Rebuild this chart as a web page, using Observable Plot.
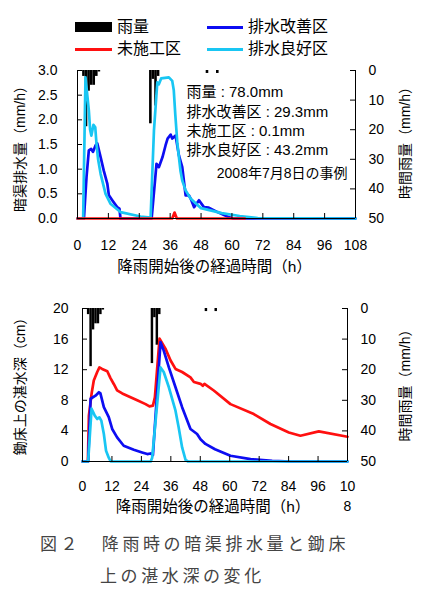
<!DOCTYPE html>
<html><head><meta charset="utf-8">
<script src="https://cdn.jsdelivr.net/npm/d3@7"></script>
<script src="https://cdn.jsdelivr.net/npm/@observablehq/plot@0.6"></script>
<style>
body{margin:0;background:#fff;}
#root{position:relative;width:429px;height:600px;overflow:hidden;font-family:"Liberation Sans",Arial,"Noto Sans CJK JP",sans-serif;color:#000;}
.abs{position:absolute;white-space:nowrap;}
.sw{position:absolute;}
svg{position:absolute;left:0;}
</style></head><body><div id="root"></div>
<script>
// ---------- data ----------
const xTicks = [0, 12, 24, 36, 48, 60, 72, 84, 96, 108];
const topYTicks = [0, 0.5, 1, 1.5, 2, 2.5, 3];
const botYTicks = [0, 4, 8, 12, 16, 20];
const rainTicks = [0, 10, 20, 30, 40, 50];

const rainHour = [2, 3, 4, 5, 6, 7, 8, 28, 29, 30, 31, 50, 54];
const rainMm   = [2, 19, 7, 5, 5, 2, 0.5, 18, 3, 12, 2, 1, 1];

const legendNames = ["雨量", "排水改善区", "未施工区", "排水良好区"];

// top chart: 暗渠排水量 (mm/h)
const topKaizenHour = [0, 2.5, 3.5, 4.4, 5.3, 6.0, 7.0, 7.7, 9.0, 10.2, 11.6, 12.2, 13.5, 15.4, 16.3, 16.7, 28.8, 30.7, 31.6, 33.0, 34.2, 35.0, 36.2, 36.8, 38.1, 39.4, 40.7, 42.0, 43.3, 44.0, 45.3, 47.2, 49.1, 51.0, 54.4, 58.2, 60.5, 108];
const topKaizenVal  = [0, 0, 0.84, 1.38, 1.41, 1.35, 1.48, 1.52, 1.24, 0.97, 0.70, 0.47, 0.37, 0.23, 0.20, 0, 0, 1.11, 1.04, 1.24, 1.48, 1.62, 1.70, 1.62, 1.68, 1.28, 1.04, 0.47, 0.47, 0.40, 0.23, 0.37, 0.23, 0.22, 0.13, 0.04, 0, 0];
const topMisekoHour = [0, 36.8, 37.7, 38.6, 65];
const topMisekoVal  = [0, 0, 0.12, 0, 0];
const topRyokoHour  = [0, 2.2, 3.1, 3.8, 4.4, 4.9, 5.4, 6.2, 6.9, 7.4, 8.0, 9.0, 10.9, 12.8, 16.7, 24.5, 28.4, 29.7, 31.0, 31.6, 32.5, 35.5, 36.8, 37.4, 38.0, 38.8, 40.0, 40.7, 42.0, 44.0, 48.0, 56.0, 63.0, 70.0, 108];
const topRyokoVal   = [0, 0, 2.86, 2.50, 2.19, 1.80, 1.68, 1.90, 1.85, 1.50, 1.20, 0.90, 0.50, 0.30, 0.13, 0.04, 0.02, 1.78, 2.76, 2.72, 2.84, 2.86, 2.79, 2.60, 2.10, 1.52, 0.97, 0.77, 0.57, 0.40, 0.21, 0.11, 0.05, 0.01, 0];

// bottom chart: 鋤床上の湛水深 (cm)
const botMisekoHour = [0, 2.2, 2.6, 3.7, 4.6, 6.0, 6.9, 8.0, 10.1, 11.4, 12.8, 14.1, 16.2, 18.9, 22.3, 25.7, 27.3, 28.7, 29.5, 31.4, 33.8, 35.9, 37.9, 40.6, 44.0, 45.4, 48.1, 49.0, 49.7, 53.5, 60.3, 69.8, 76.6, 84.1, 88.8, 96.3, 108];
const botMisekoVal  = [0, 0, 6.0, 8.85, 10.6, 11.7, 12.3, 12.1, 11.8, 10.9, 10.1, 9.3, 8.9, 8.5, 8.0, 7.5, 7.2, 7.3, 8.4, 16.06, 14.75, 13.2, 12.1, 11.7, 11.0, 10.4, 10.15, 9.9, 10.15, 9.28, 7.5, 6.2, 4.9, 3.8, 3.37, 3.94, 3.24];
const botKaizenHour = [0, 2.3, 3.3, 5.3, 6.7, 7.3, 8.7, 10.7, 12.1, 14.1, 16.8, 20.9, 24.3, 26.4, 27.7, 28.7, 31.8, 33.1, 35.2, 37.9, 40.6, 44.0, 46.7, 48.1, 50.1, 54.0, 60.3, 68.5, 77.3, 85, 108];
const botKaizenVal  = [0, 0, 8.2, 8.6, 9.05, 8.9, 7.1, 5.8, 4.25, 3.15, 2.06, 1.54, 1.18, 0.97, 1.05, 0.84, 15.6, 14.5, 12.3, 9.7, 7.1, 4.25, 3.6, 2.9, 2.3, 1.6, 0.75, 0.3, 0.1, 0, 0];
const botRyokoHour  = [0, 2.3, 3.7, 5.0, 6.0, 6.9, 7.7, 8.7, 9.6, 10.7, 11.5, 27.8, 28.4, 31.8, 33.1, 35.2, 37.9, 39.2, 40.6, 42.0, 43.0, 108];
const botRyokoVal   = [0, 0, 6.9, 6.0, 5.56, 5.77, 5.3, 3.6, 1.4, 0.5, 0, 0, 0.5, 12.3, 11.7, 9.7, 6.65, 4.46, 1.84, 0.2, 0, 0];

const annotLines = ["雨量 : 78.0mm", "排水改善区 : 29.3mm", "未施工区 : 0.1mm", "排水良好区 : 43.2mm"];
const annotDate = "2008年7月8日の事例";
const xLabel = "降雨開始後の経過時間（h）";
const topYLabel = "暗渠排水量（mm/h）";
const botYLabel = "鋤床上の湛水深（cm）";
const rainLabel = "時間雨量（mm/h）";
const captionLines = ["図２　降雨時の暗渠排水量と鋤床", "上の湛水深の変化"];

// ---------- build ----------
const BLUE = "#0d0df2", RED = "#ff1010", CYAN = "#19c6f3";
const FONT = '"Liberation Sans", Arial, "Noto Sans CJK JP", sans-serif';
const zip = (h, v) => h.map((x, i) => ({h: x, v: v[i]}));
const rain = rainHour.map((h, i) => ({h, r: rainMm[i]}));

function chart(o) {
  const fw = 429 - o.ml - o.mr, fh = o.h - o.mt - o.mb;
  const toY = r => o.yMax * (1 - r / 50);
  const rainY = rainTicks.map(toY);
  return Plot.plot({
    width: 429, height: o.h,
    marginTop: o.mt, marginBottom: o.mb, marginLeft: o.ml, marginRight: o.mr,
    x: {domain: [0, 108]},
    y: {domain: [0, o.yMax]},
    style: {fontFamily: FONT, fontSize: "14px", background: "transparent", color: "#000", overflow: "visible"},
    marks: [
      Plot.rect(rain, {x1: d => d.h, x2: d => d.h + 1, y1: () => o.yMax, y2: d => toY(d.r), fill: "#000"}),
      ...o.series.map(s => Plot.line(zip(s.h, s.v), {x: "h", y: "v", stroke: s.color, strokeWidth: 2.7, strokeLinejoin: "round"})),
      Plot.ruleY([0], {stroke: "#000"}),
      Plot.ruleX([0, 108], {stroke: "#000"}),
      Plot.tickX(xTicks, {x: d => d, insetTop: fh - 5, stroke: "#000"}),
      Plot.tickY(o.yTicks, {y: d => d, insetRight: fw - 5, stroke: "#000"}),
      Plot.tickY(rainY, {y: d => d, insetLeft: fw - 5, stroke: "#000"}),
      Plot.axisX({ticks: xTicks, tickSize: 0, tickPadding: o.xPad, tickFormat: o.xFmt, label: null, lineHeight: 1.43}),
      Plot.axisY({anchor: "left", ticks: o.yTicks, tickSize: 0, tickPadding: o.ylPad, tickFormat: o.yFmt, label: null}),
      Plot.axisY({anchor: "right", ticks: rainY, tickSize: 0, tickPadding: o.yrPad,
        tickFormat: y => String(Math.round(50 * (1 - y / o.yMax))), label: null}),
      Plot.text([o.yLabel], {text: d => d, frameAnchor: "left", textAnchor: "middle", lineAnchor: "middle", rotate: -90, dx: o.ylDx, dy: o.ylDy, fontSize: 14}),
      Plot.text([rainLabel], {text: d => d, frameAnchor: "right", textAnchor: "middle", lineAnchor: "middle", rotate: -90, dx: o.yrDx, dy: o.yrDy, fontSize: 14}),
      Plot.text([xLabel], {text: d => d, frameAnchor: "bottom", textAnchor: "middle", lineAnchor: "middle", dy: o.xlDy, dx: -2, fontSize: 15.5}),
      ...(o.extra || [])
    ]
  });
}

const root = document.getElementById("root");

// legend
function addAbs(html, css) {
  const d = document.createElement("div");
  d.className = "abs";
  d.style.cssText = css;
  d.textContent = html;
  root.appendChild(d);
  return d;
}
function addSwatch(css) {
  const d = document.createElement("div");
  d.className = "sw";
  d.style.cssText = css;
  root.appendChild(d);
}
addSwatch("left:75px;top:22px;width:37px;height:10px;background:#000;");
addAbs(legendNames[0], "left:117px;top:17px;font-size:16px;line-height:20px;");
addSwatch(`left:207px;top:26px;width:36px;height:3px;background:${BLUE};`);
addAbs(legendNames[1], "left:248px;top:17px;font-size:16px;line-height:20px;");
addSwatch(`left:75px;top:48px;width:37px;height:3px;background:${RED};`);
addAbs(legendNames[2], "left:117px;top:39px;font-size:16px;line-height:20px;");
addSwatch(`left:207px;top:48px;width:36px;height:3px;background:${CYAN};`);
addAbs(legendNames[3], "left:248px;top:39px;font-size:16px;line-height:20px;");

// top chart
const topSvg = chart({
  h: 220, mt: 10, mb: 62, ml: 77, mr: 74, yMax: 3,
  yTicks: topYTicks, yFmt: d => d.toFixed(1),
  xPad: 17, xFmt: d => String(d), ylPad: 20, yrPad: 13,
  ylDx: -57, ylDy: 1, yrDx: 50, yrDy: -5, xlDy: 49, yLabel: topYLabel,
  series: [
    {h: topKaizenHour, v: topKaizenVal, color: BLUE},
    {h: topRyokoHour, v: topRyokoVal, color: CYAN},
    {h: topMisekoHour, v: topMisekoVal, color: RED}
  ],
  extra: [
    Plot.text([annotLines.join("\n")], {text: d => d, frameAnchor: "top-left", dx: 109, dy: 13, textAnchor: "start", lineAnchor: "top", lineHeight: 1.29, fontSize: 15}),
    Plot.text([annotDate], {text: d => d, frameAnchor: "top-right", dx: -8, dy: 103, textAnchor: "end", lineAnchor: "middle", fontSize: 14})
  ]
});
topSvg.style.top = "60px";
root.appendChild(topSvg);

// bottom chart
const botSvg = chart({
  h: 230, mt: 18, mb: 59, ml: 82, mr: 82, yMax: 20,
  yTicks: botYTicks, yFmt: d => String(d),
  xPad: 15, xFmt: d => d === 108 ? "10\n8" : String(d), ylPad: 14, yrPad: 13,
  ylDx: -62, ylDy: -2, yrDx: 58, yrDy: -3, xlDy: 46, yLabel: botYLabel,
  series: [
    {h: botMisekoHour, v: botMisekoVal, color: RED},
    {h: botKaizenHour, v: botKaizenVal, color: BLUE},
    {h: botRyokoHour, v: botRyokoVal, color: CYAN}
  ]
});
botSvg.style.top = "290px";
root.appendChild(botSvg);

// caption
const capCss = 'font-family:"Noto Sans CJK JP",sans-serif;font-size:17px;letter-spacing:3.6px;color:#444;line-height:22px;';
addAbs(captionLines[0], "left:40px;top:532px;" + capCss);
addAbs(captionLines[1], "left:100px;top:564px;" + capCss);
</script></body></html>
